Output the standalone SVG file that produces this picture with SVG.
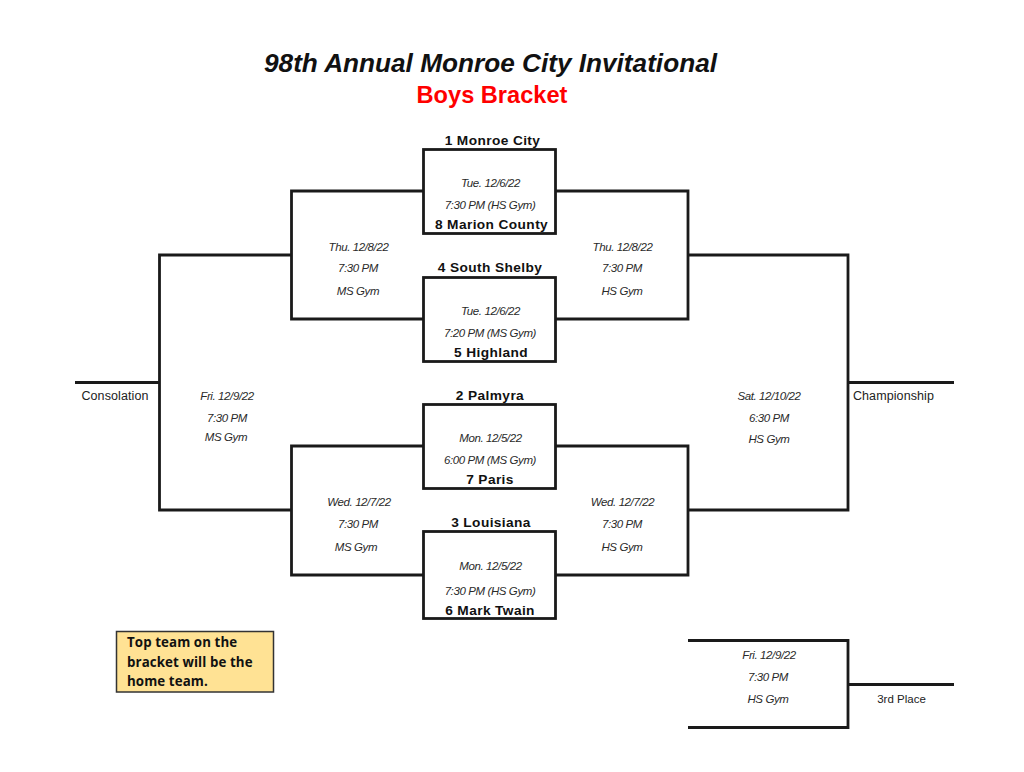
<svg xmlns="http://www.w3.org/2000/svg" width="1024" height="772" viewBox="0 0 1024 772">
<style>
text{font-family:"Liberation Sans",Arial,sans-serif;text-anchor:middle;fill:#111}
.l{fill:none;stroke:#1a1a1a;stroke-width:2.800}
.t{font-size:13.700px;font-weight:bold;letter-spacing:.4px}
.i{font-size:11.500px;font-style:italic;letter-spacing:-.4px;fill:#2a2a2a}
.p{font-size:12.500px;fill:#222}
</style>
<rect width="1024" height="772" fill="#fff"/>
<g id="connectors">
<path class="l" d="M423 191H291.500V319H423M556 191H688V319H556"/>
<path class="l" d="M423 446H291.500V575H423M556 446H688V575H556"/>
<path class="l" d="M291 255H159.500V510H291M688 255H848V510H688"/>
<path class="l" d="M159 382.500H75M848 382.500H954"/>
<path class="l" d="M688 640.500H848V727.500H688M848 684.500H954"/>
</g>
<g id="title">
<text x="490.500" y="72" font-size="26.200" font-weight="bold" font-style="italic">98th Annual Monroe City Invitational</text>
<text x="492" y="103" font-size="23.600" font-weight="bold" style="fill:#f00">Boys Bracket</text>
</g>
<g id="game1"><rect class="l" x="423.500" y="149.500" width="132" height="84"/>
<text class="t" x="492.500" y="144.500">1 Monroe City</text><text class="i" x="490.500" y="187">Tue. 12/6/22</text><text class="i" x="490" y="209">7:30 PM (HS Gym)</text><text class="t" x="491.500" y="228.500">8 Marion County</text></g>
<g id="game2"><rect class="l" x="423.500" y="277.500" width="132" height="84"/>
<text class="t" x="490" y="271.500">4 South Shelby</text><text class="i" x="490.500" y="315">Tue. 12/6/22</text><text class="i" x="490" y="336.500">7:20 PM (MS Gym)</text><text class="t" x="491" y="356.500">5 Highland</text></g>
<g id="game3"><rect class="l" x="423.500" y="404.500" width="132" height="84"/>
<text class="t" x="490" y="399.500">2 Palmyra</text><text class="i" x="490.500" y="442">Mon. 12/5/22</text><text class="i" x="490" y="464">6:00 PM (MS Gym)</text><text class="t" x="490" y="483.500">7 Paris</text></g>
<g id="game4"><rect class="l" x="423.500" y="531.500" width="132" height="87"/>
<text class="t" x="491" y="526.500">3 Louisiana</text><text class="i" x="490.500" y="570">Mon. 12/5/22</text><text class="i" x="490" y="594.500">7:30 PM (HS Gym)</text><text class="t" x="490" y="614.500">6 Mark Twain</text></g>
<g id="semis">
<text class="i" x="358.500" y="251">Thu. 12/8/22</text><text class="i" x="358" y="272">7:30 PM</text><text class="i" x="358" y="294.500">MS Gym</text>
<text class="i" x="622.500" y="251">Thu. 12/8/22</text><text class="i" x="622" y="272">7:30 PM</text><text class="i" x="622" y="294.500">HS Gym</text>
<text class="i" x="359" y="506">Wed. 12/7/22</text><text class="i" x="358" y="527.500">7:30 PM</text><text class="i" x="356" y="550.500">MS Gym</text>
<text class="i" x="622.500" y="506">Wed. 12/7/22</text><text class="i" x="622" y="527.500">7:30 PM</text><text class="i" x="622" y="550.500">HS Gym</text>
</g>
<g id="finals">
<text class="i" x="227" y="400">Fri. 12/9/22</text><text class="i" x="227" y="422">7:30 PM</text><text class="i" x="226" y="441">MS Gym</text>
<text class="i" x="769" y="400">Sat. 12/10/22</text><text class="i" x="769" y="422">6:30 PM</text><text class="i" x="769" y="442.500">HS Gym</text>
<text class="i" x="769" y="659">Fri. 12/9/22</text><text class="i" x="768" y="680.500">7:30 PM</text><text class="i" x="768" y="703">HS Gym</text>
<text class="p" x="115" y="400" style="letter-spacing:.1px">Consolation</text><text class="p" x="893.500" y="400" style="letter-spacing:.1px">Championship</text><text x="901.500" y="703" font-size="11.500" style="fill:#222">3rd Place</text>
</g>
<g id="note"><rect x="116.500" y="631.500" width="157" height="60.500" fill="#ffe294" stroke="#333" stroke-width="1.500"/>
<text x="127" y="646.500" style="text-anchor:start;font-family:'Open Sans',sans-serif;font-size:13.300px;font-weight:bold;letter-spacing:.1px">Top team on the</text><text x="127" y="666.500" style="text-anchor:start;font-family:'Open Sans',sans-serif;font-size:13.300px;font-weight:bold;letter-spacing:.1px">bracket will be the</text><text x="127" y="685.500" style="text-anchor:start;font-family:'Open Sans',sans-serif;font-size:13.300px;font-weight:bold;letter-spacing:.1px">home team.</text></g>
</svg>
